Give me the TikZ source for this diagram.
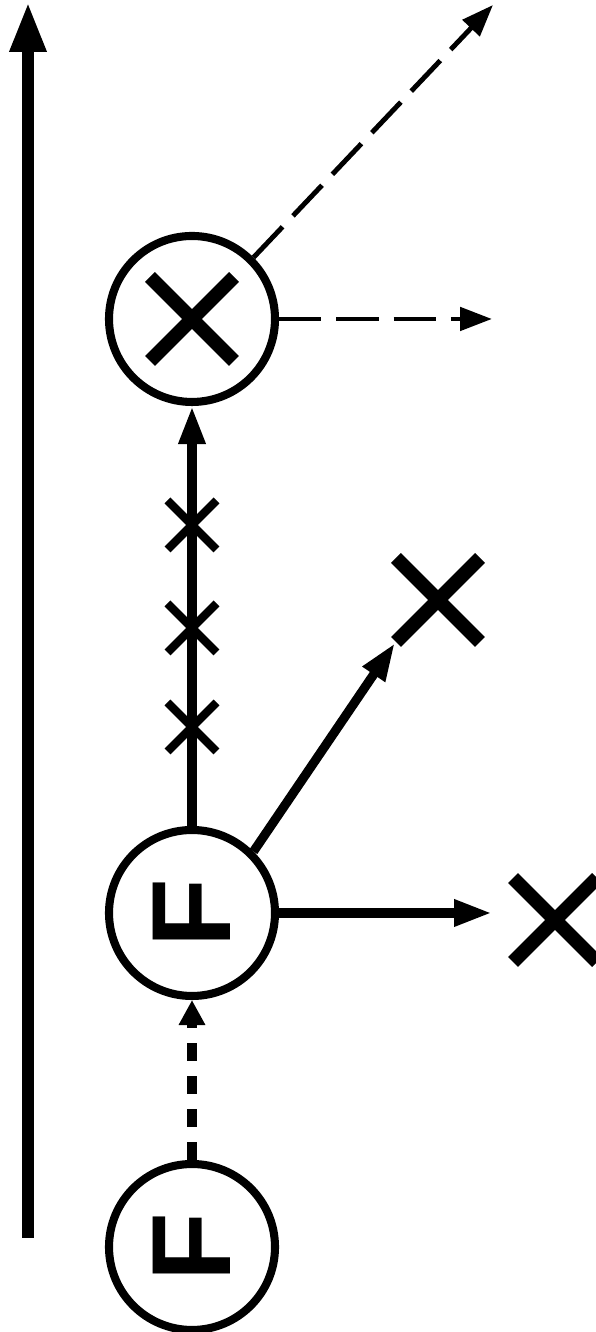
\documentclass[tikz,border=0pt]{standalone}
\usepackage{fontspec}
\setmainfont{Liberation Sans}
\usetikzlibrary{arrows.meta}

\tikzset{
  station/.style={circle, draw, line width=2.3pt, minimum size=1.66cm, inner sep=0pt,
    font=\fontsize{32}{32}\selectfont\bfseries},
  flow/.style={line width=2.6pt, -{Triangle[length=3.8mm, width=2.5mm]}},
  feed/.style={line width=2.8pt, dash pattern=on 5.1pt off 4.3pt, -{Triangle[length=2.5mm, width=2.5mm]}},
  leak/.style={line width=1.4pt, dash pattern=on 12pt off 4.3pt, -{Triangle[length=3.2mm, width=2.3mm]}},
  bigcross/.style={line width=4pt},
  smallcross/.style={line width=2.4pt}
}

\begin{document}
\begin{tikzpicture}[>=Triangle]

\useasboundingbox (0,0) rectangle (5.96,13.32);

% time axis
\draw[line width=3.4pt, -{Triangle[length=5mm, width=3.4mm]}] (0.28,0.94) -- (0.28,13.30);

% stations
\node[station] (src) at (1.92,0.85) {\rotatebox{90}{F}};
\node[station] (mid) at (1.92,4.19) {\rotatebox{90}{F}};
\node[station] (top) at (1.92,10.13) {};
\draw[bigcross, shift={(top)}] (-0.42,-0.42) -- (0.42,0.42) (-0.42,0.42) -- (0.42,-0.42);

% free ends
\coordinate (xdiag) at (4.38,7.32);
\coordinate (xright) at (5.55,4.12);
\coordinate (diagtip) at (3.95,6.89);
\coordinate (righttip) at (4.92,4.19);
\coordinate (leaktip) at (4.92,10.13);
\coordinate (escapetip) at (4.93,13.27);

\draw[bigcross, shift={(xdiag)}] (-0.42,-0.42) -- (0.42,0.42) (-0.42,0.42) -- (0.42,-0.42);
\draw[bigcross, shift={(xright)}] (-0.42,-0.42) -- (0.42,0.42) (-0.42,0.42) -- (0.42,-0.42);

% connectors
\draw[feed] (src) -- (mid);
\draw[flow] (mid) -- (top);
\draw[flow] (mid.45) -- (diagtip);
\draw[flow] (mid) -- (righttip);
\draw[leak] (top) -- (leaktip);
\draw[leak] (top.45) -- (escapetip);

% losses on the way up
\foreach \y in {8.07,7.04,6.05}
  \draw[smallcross] (1.92,\y) ++(-0.245,-0.245) -- ++(0.49,0.49) ++(-0.49,0) -- ++(0.49,-0.49);

\end{tikzpicture}
\end{document}
